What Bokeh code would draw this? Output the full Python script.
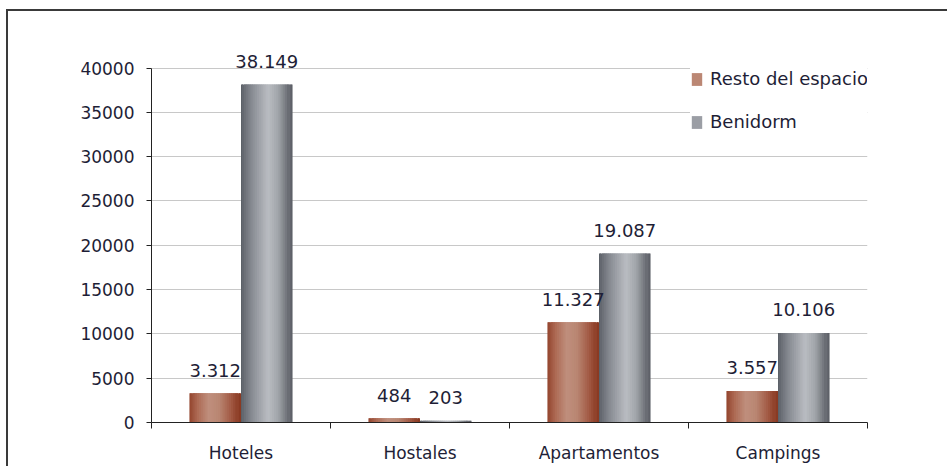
import numpy as np
from bokeh.plotting import figure
from bokeh.models import (ColumnDataSource, FixedTicker, Label, Legend, LegendItem,
                          Range1d, NumeralTickFormatter)
from bokeh.transform import dodge
from bokeh.embed import file_html
from bokeh.resources import INLINE

# ---- data ----
categories = ["Hoteles", "Hostales", "Apartamentos", "Campings"]
resto = [3312, 484, 11327, 3557]
benidorm = [38149, 203, 19087, 10106]
series_names = ["Resto del espacio", "Benidorm"]
y_ticks = [0, 5000, 10000, 15000, 20000, 25000, 30000, 35000, 40000]


def fmt(v):
    return f"{v:,}".replace(",", ".")


x = np.arange(len(categories)) + 0.5
source = ColumnDataSource(dict(x=x, resto=resto, benidorm=benidorm))

TXT = "#1e1e36"
FONT = "DejaVu Sans"

# headroom above the top tick so the value labels are not clipped
y_top = y_ticks[-1] + 3000

p = figure(width=941, height=457, x_range=Range1d(0, len(categories)),
           y_range=Range1d(0, y_top), output_backend="svg", toolbar_location=None,
           min_border_left=143, min_border_right=82, min_border_top=30,
           min_border_bottom=46)
p.styles = {"margin-left": "6px", "margin-top": "9px",
            "border-left": "2px solid #3a3a3a", "border-top": "2px solid #3a3a3a"}
p.outline_line_color = None
p.background_fill_color = "white"
p.border_fill_color = "white"


def hex2rgb(h):
    h = h.lstrip("#")
    return np.array([int(h[i:i + 2], 16) for i in (0, 2, 4)], dtype=float)


def grad(stops, t):
    pos = [s[0] for s in stops]
    cols = [hex2rgb(s[1]) for s in stops]
    rgb = [np.interp(t, pos, [c[k] for c in cols]) for k in range(3)]
    return "#%02x%02x%02x" % tuple(int(round(v)) for v in rgb)


red_stops = [(0.0, "#8f3d26"), (0.18, "#ad6a54"), (0.4, "#bf8f7d"), (0.6, "#b98672"),
             (0.85, "#a05640"), (1.0, "#86351e")]
grey_stops = [(0.0, "#585c64"), (0.25, "#8a8e95"), (0.55, "#babdc2"), (0.75, "#a0a4a9"),
              (1.0, "#585b62")]

bw = 0.288
N = 24
sw = bw / N
legend_r = {}
for col, stops, side, name in [("resto", red_stops, -1, series_names[0]),
                               ("benidorm", grey_stops, 1, series_names[1])]:
    for i in range(N):
        t = (i + 0.5) / N
        off = (bw * t) if side > 0 else (-bw + bw * t)
        r = p.vbar(x=dodge("x", off), top=col, width=sw * 2.2 if 0 < i < N - 1 else sw,
                   source=source, fill_color=grad(stops, t), line_color=None)
        if i == N // 3:
            legend_r[name] = r

# value labels
for xi, rv, bv in zip(x, resto, benidorm):
    for xv, v in [(xi - bw / 2, rv), (xi + bw / 2, bv)]:
        p.add_layout(Label(x=xv, y=v, text=fmt(v), text_align="center",
                           text_baseline="alphabetic", y_offset=23,
                           text_font=FONT, text_font_size="18px", text_color=TXT))

# axes
p.xgrid.visible = False
p.ygrid.grid_line_color = "#c8c8c8"
p.ygrid.grid_line_width = 1
p.ygrid.ticker = FixedTicker(ticks=y_ticks)

p.xaxis.ticker = FixedTicker(ticks=list(x), minor_ticks=list(range(len(categories) + 1)))
p.xaxis.major_label_overrides = {float(xx): c for xx, c in zip(x, categories)}
p.xaxis.major_tick_out = 0
p.xaxis.major_tick_in = 0
p.xaxis.minor_tick_out = 6
p.xaxis.minor_tick_in = 0
p.xaxis.minor_tick_line_color = "#222222"
p.xaxis.axis_line_color = "#222222"
p.xaxis.major_label_standoff = 14
p.xaxis.major_label_text_font = FONT
p.xaxis.major_label_text_font_size = "17px"
p.xaxis.major_label_text_color = TXT

p.yaxis.ticker = FixedTicker(ticks=y_ticks)
p.yaxis.bounds = (y_ticks[0], y_ticks[-1])
p.yaxis.formatter = NumeralTickFormatter(format="0")
p.yaxis.major_tick_out = 5
p.yaxis.major_tick_in = 0
p.yaxis.minor_tick_out = 0
p.yaxis.minor_tick_in = 0
p.yaxis.major_tick_line_color = "#222222"
p.yaxis.axis_line_color = "#222222"
p.yaxis.major_label_standoff = 12
p.yaxis.major_label_text_font = FONT
p.yaxis.major_label_text_font_size = "17px"
p.yaxis.major_label_text_color = TXT

legend = Legend(items=[LegendItem(label=n, renderers=[legend_r[n]]) for n in series_names],
                location=(539, 290))
legend.border_line_color = None
legend.background_fill_color = "white"
legend.background_fill_alpha = 1.0
legend.padding = 8
legend.margin = 0
legend.spacing = 22
legend.glyph_width = 13
legend.glyph_height = 16
legend.label_height = 20
legend.label_standoff = 7
legend.label_text_font = FONT
legend.label_text_font_size = "18px"
legend.label_text_color = TXT
p.add_layout(legend, "center")

open("out.html", "w").write(file_html(p, INLINE))
